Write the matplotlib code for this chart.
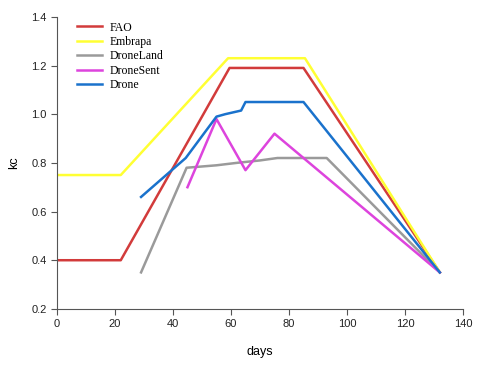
import numpy as np
import matplotlib
matplotlib.use('Agg')
import matplotlib.pyplot as plt

# kc curves
fao_days = [0, 22, 59.5, 85, 132]
fao_kc = [0.40, 0.40, 1.19, 1.19, 0.35]

embrapa_days = [0, 22, 59, 85.5, 132]
embrapa_kc = [0.75, 0.75, 1.23, 1.23, 0.35]

droneland_days = [29, 44.7, 55, 62, 70, 76, 93, 132]
droneland_kc = [0.35, 0.78, 0.79, 0.80, 0.81, 0.82, 0.82, 0.35]

dronesent_days = [45, 55, 65, 75, 132]
dronesent_kc = [0.70, 0.98, 0.77, 0.92, 0.35]

drone_days = [29, 44.4, 55, 58, 63.5, 65, 85, 132]
drone_kc = [0.66, 0.82, 0.99, 1.00, 1.015, 1.05, 1.05, 0.35]

tick_font = {'family': 'Liberation Sans', 'size': 8}
label_font = {'family': 'Liberation Sans', 'size': 9}
legend_font = {'family': 'Liberation Serif', 'size': 8.5}

fig = plt.figure(figsize=[4.91, 3.66], dpi=100)
ax = fig.add_axes([0.116, 0.156, 0.827, 0.798])

ax.plot(fao_days, fao_kc, color='#d23b3b', lw=1.8, label='FAO')
ax.plot(embrapa_days, embrapa_kc, color='#ffff33', lw=1.8, label='Embrapa')
ax.plot(droneland_days, droneland_kc, color='#9a9a9a', lw=1.8, label='DroneLand')
ax.plot(dronesent_days, dronesent_kc, color='#dd44dd', lw=1.8, label='DroneSent')
ax.plot(drone_days, drone_kc, color='#1a72cc', lw=1.8, label='Drone')

ax.set_xlim(0, 140)
ax.set_ylim(0.2, 1.4)
ax.set_xticks(np.arange(0, 141, 20))
ax.set_yticks(np.arange(0.2, 1.41, 0.2))
ax.set_yticklabels(['%.1f' % v for v in np.arange(0.2, 1.41, 0.2)])
for lab in ax.get_xticklabels() + ax.get_yticklabels():
    lab.set_fontproperties(tick_font)
ax.tick_params(direction='out', length=4, color='#555555', labelcolor='#222222')

ax.spines['top'].set_visible(False)
ax.spines['right'].set_visible(False)
ax.spines['left'].set_color('#555555')
ax.spines['bottom'].set_color('#555555')

ax.set_xlabel('days', fontdict=label_font, labelpad=12)
ax.set_ylabel('kc', fontdict=label_font, labelpad=8)

ax.legend(loc='upper left', bbox_to_anchor=(0.022, 1.02), frameon=False,
          prop=legend_font, handlelength=2.2, labelspacing=0.2, handletextpad=0.6)

fig.savefig('out.png', dpi=100)
